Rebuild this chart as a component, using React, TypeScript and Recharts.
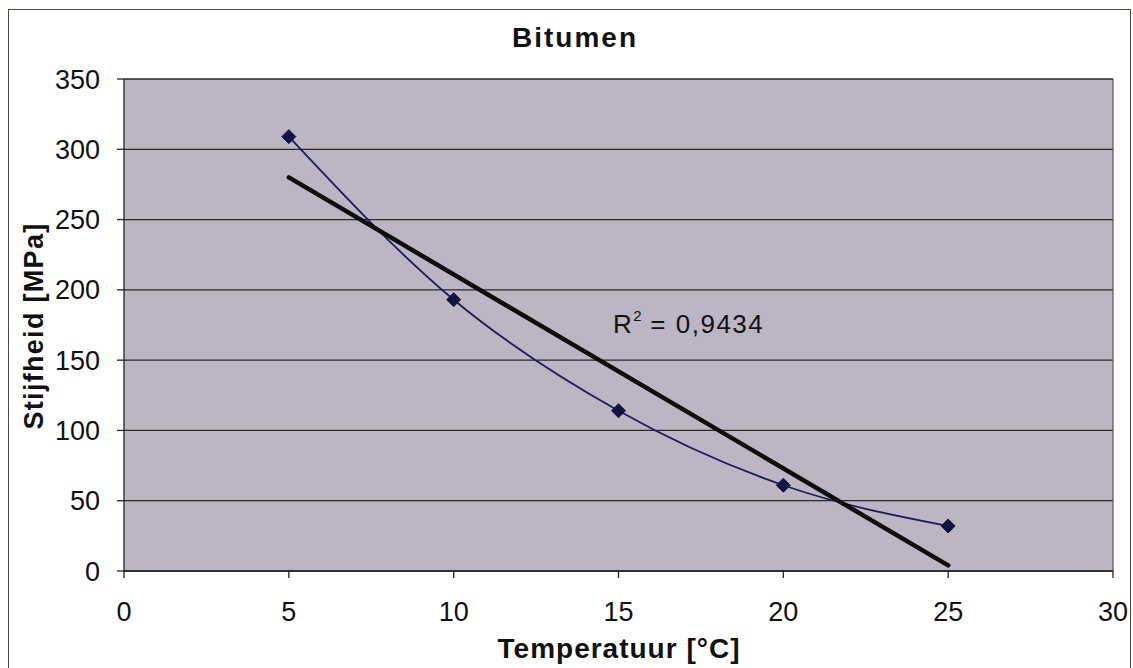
import {
  ComposedChart,
  Line,
  XAxis,
  YAxis,
  CartesianGrid,
  ReferenceLine,
} from 'recharts'

/* ============ Bitumen: stijfheid vs temperatuur ============ */

// gemeten punten
const temperatures = [5, 10, 15, 20, 25]
const stiffness = [309, 193, 114, 61, 32]

const trendTemps = [5, 25]
const trendValues = [280, 4]

const xTicks = [0, 5, 10, 15, 20, 25, 30]
const yTicks = [0, 50, 100, 150, 200, 250, 300, 350]

const FONT = '"Liberation Sans", Arial, sans-serif'

const measured = temperatures.map((x, i) => ({ x, y: stiffness[i] }))
const trend = trendTemps.map((x, i) => ({ x, y: trendValues[i] }))

// ruitvormige marker zoals in Excel
function Diamond(props: any) {
  const { cx, cy, index } = props
  if (cx == null || cy == null) return <g key={index} />
  const r = 7
  return (
    <path
      key={index}
      d={`M${cx},${cy - r} L${cx + r},${cy} L${cx},${cy + r} L${cx - r},${cy} Z`}
      fill="#141440"
      stroke="#141440"
      strokeWidth={1}
      strokeLinejoin="round"
    />
  )
}

export default function App() {
  return (
    <div
      style={{
        position: 'fixed',
        left: 0,
        top: 0,
        width: 1133,
        height: 668,
        overflow: 'hidden',
        background: '#fff',
        fontFamily: FONT,
      }}
    >
      {/* kader rond de grafiek */}
      <div
        style={{
          position: 'absolute',
          left: 8,
          top: 9,
          width: 1121,
          height: 700,
          border: '1.5px solid #4d4d3d',
        }}
      />

      <div style={{ position: 'absolute', left: 0, top: 0 }}>
        <ComposedChart
          width={1133}
          height={668}
          margin={{ top: 79, right: 20, bottom: 0, left: 0 }}
        >
          <CartesianGrid
            vertical={false}
            fill="#bcb5c4"
            stroke="#2a2a2a"
            strokeWidth={1.3}
          />
          <XAxis
            type="number"
            dataKey="x"
            domain={[0, 30]}
            ticks={xTicks}
            height={97}
            tickSize={7}
            tickMargin={24}
            stroke="#222"
            strokeWidth={1.3}
            tick={{ fontSize: 27, fill: '#111', fontFamily: FONT }}
            allowDataOverflow
          />
          <YAxis
            type="number"
            dataKey="y"
            domain={[0, 350]}
            ticks={yTicks}
            width={124}
            tickSize={7}
            tickMargin={17}
            stroke="#222"
            strokeWidth={1.3}
            tick={{ fontSize: 27, fill: '#111', fontFamily: FONT }}
          />
          {/* rechterrand van het plotgebied */}
          <ReferenceLine x={30} stroke="#555" strokeWidth={1.2} />
          {/* gemeten waarden, vloeiende lijn */}
          <Line
            data={measured}
            dataKey="y"
            type="monotone"
            stroke="#1c1c5a"
            strokeWidth={1.8}
            dot={<Diamond />}
            activeDot={false}
            isAnimationActive={false}
          />
          {/* lineaire trendlijn */}
          <Line
            data={trend}
            dataKey="y"
            type="linear"
            stroke="#0d0d0d"
            strokeWidth={4.5}
            strokeLinecap="round"
            dot={false}
            activeDot={false}
            isAnimationActive={false}
          />
        </ComposedChart>
      </div>

      {/* titel */}
      <div
        style={{
          position: 'absolute',
          left: 575,
          top: 38,
          transform: 'translate(-50%, -50%)',
          fontSize: 28,
          lineHeight: 1,
          fontWeight: 'bold',
          letterSpacing: 2,
          color: '#111',
          whiteSpace: 'nowrap',
        }}
      >
        Bitumen
      </div>

      {/* y-as titel */}
      <div
        style={{
          position: 'absolute',
          left: 34,
          top: 326,
          transform: 'translate(-50%, -50%) rotate(-90deg)',
          fontSize: 27,
          lineHeight: 1,
          fontWeight: 'bold',
          letterSpacing: 1.3,
          color: '#111',
          whiteSpace: 'nowrap',
        }}
      >
        Stijfheid [MPa]
      </div>

      {/* x-as titel */}
      <div
        style={{
          position: 'absolute',
          left: 619,
          top: 649,
          transform: 'translate(-50%, -50%)',
          fontSize: 28,
          lineHeight: 1,
          fontWeight: 'bold',
          letterSpacing: 1,
          color: '#111',
          whiteSpace: 'nowrap',
        }}
      >
        Temperatuur [°C]
      </div>

      {/* R² label */}
      <div
        style={{
          position: 'absolute',
          left: 613,
          top: 311,
          fontSize: 26,
          lineHeight: 1,
          letterSpacing: 1.5,
          color: '#111',
          whiteSpace: 'nowrap',
        }}
      >
        R<sup style={{ fontSize: 15, verticalAlign: 'top', lineHeight: 1, position: 'relative', top: -3, letterSpacing: 0 }}>2</sup> = 0,9434
      </div>
    </div>
  )
}
